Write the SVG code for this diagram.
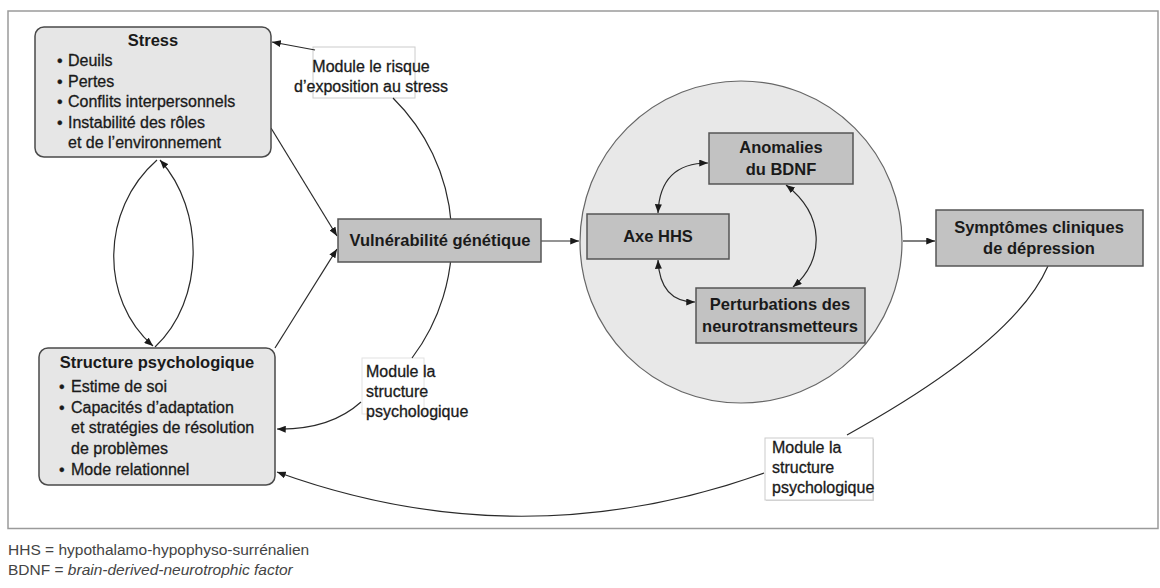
<svg xmlns="http://www.w3.org/2000/svg" width="1160" height="588" viewBox="0 0 1160 588">
<defs>
<marker id="ah" viewBox="0 0 10 8" refX="10" refY="4" markerWidth="9" markerHeight="7" markerUnits="userSpaceOnUse" orient="auto-start-reverse"><path d="M0,0 L10,4 L0,8 z" fill="#1a1a1a"/></marker>
</defs>
<style>
text{font-family:"Liberation Sans",Arial,sans-serif;fill:#1a1a1a}
.t{font-size:16.5px;font-weight:bold;text-anchor:middle}
.b{font-size:16px;stroke:#1a1a1a;stroke-width:0.3}
.lab{font-size:16px;stroke:#1a1a1a;stroke-width:0.3}
.fn{font-size:15.5px;fill:#444}
.soft{fill:#e6e6e6;stroke:#4a4a4a;stroke-width:1.5}
.dark{fill:#c2c2c2;stroke:#555;stroke-width:1.5}
.c{fill:none;stroke:#2a2a2a;stroke-width:1.2}
.lbox{fill:#fff;stroke:#ccc;stroke-width:1}
</style>
<rect x="8" y="11" width="1150" height="517.5" fill="#fff" stroke="#9a9a9a" stroke-width="1.5"/>
<g id="circle"><circle cx="741" cy="242" r="161" fill="#e8e8e8" stroke="#666" stroke-width="1.2"/></g>
<g id="label-risque"><rect class="lbox" x="313" y="47" width="102" height="51"/>
<text class="lab" text-anchor="middle" x="371" y="72">Module le risque</text>
<text class="lab" text-anchor="middle" x="371" y="92">d’exposition au stress</text></g>
<g id="label-structure-mid"><rect x="362" y="358" width="62" height="56" fill="#fff" stroke="#e2e2e2" stroke-width="1"/>
<text class="lab" x="366" y="377">Module la</text>
<text class="lab" x="366" y="397">structure</text>
<text class="lab" x="366" y="417">psychologique</text></g>
<g id="label-structure-bottom"><rect x="766" y="439" width="108" height="62" fill="#d8d8d8"/><rect class="lbox" x="765" y="438" width="108" height="62"/>
<text class="lab" x="772" y="453">Module la</text>
<text class="lab" x="772" y="473">structure</text>
<text class="lab" x="772" y="493">psychologique</text></g>
<g id="connectors">
<path class="c" d="M271,128 L337,236" marker-end="url(#ah)"/>
<path class="c" d="M275,348 L337,249" marker-end="url(#ah)"/>
<path class="c" d="M541,241 L579,241" marker-end="url(#ah)"/>
<path class="c" d="M903,241 L935,241" marker-end="url(#ah)"/>
<path class="c" d="M315,50 L272,42" marker-end="url(#ah)"/>
<path class="c" d="M393,98 A198,198 0 0 1 412,358"/>
<path class="c" d="M361,402 Q330,430 277,429" marker-end="url(#ah)"/>
<path class="c" d="M1048,266 Q1015,342 847,435"/>
<path class="c" d="M764,473 Q520,560 277,472" marker-end="url(#ah)"/>
<path class="c" d="M157,160 C100,210 100,300 153,346" marker-end="url(#ah)"/>
<path class="c" d="M155,347 C205,300 205,210 160,160" marker-end="url(#ah)"/>
<path class="c" d="M658,213 Q660,163 708,163" marker-start="url(#ah)" marker-end="url(#ah)"/>
<path class="c" d="M658,260 Q660,302 695,302" marker-start="url(#ah)" marker-end="url(#ah)"/>
<path class="c" d="M786,185 C825,215 825,260 793,287" marker-start="url(#ah)" marker-end="url(#ah)"/>
</g>
<g id="stress"><rect class="soft" x="35" y="27" width="236" height="130" rx="9"/>
<text class="t" x="153" y="46">Stress</text>
<text class="b" y="66"><tspan x="57">•</tspan><tspan x="68">Deuils</tspan></text>
<text class="b" y="87"><tspan x="57">•</tspan><tspan x="68">Pertes</tspan></text>
<text class="b" y="107"><tspan x="57">•</tspan><tspan x="68">Conflits interpersonnels</tspan></text>
<text class="b" y="128"><tspan x="57">•</tspan><tspan x="68">Instabilité des rôles</tspan></text>
<text class="b" x="68" y="148">et de l’environnement</text></g>
<g id="structure"><rect class="soft" x="39" y="348" width="236" height="137" rx="9"/>
<text class="t" x="157" y="368">Structure psychologique</text>
<text class="b" y="392"><tspan x="59">•</tspan><tspan x="71">Estime de soi</tspan></text>
<text class="b" y="413"><tspan x="59">•</tspan><tspan x="71">Capacités d’adaptation</tspan></text>
<text class="b" x="71" y="433">et stratégies de résolution</text>
<text class="b" x="71" y="454">de problèmes</text>
<text class="b" y="475"><tspan x="59">•</tspan><tspan x="71">Mode relationnel</tspan></text></g>
<g id="vulnerabilite"><rect class="dark" x="338" y="219" width="203" height="43"/>
<text class="t" x="440" y="246">Vulnérabilité génétique</text></g>
<g id="anomalies"><rect class="dark" x="709" y="133" width="144" height="51"/>
<text class="t" x="781" y="153">Anomalies</text>
<text class="t" x="781" y="175">du BDNF</text></g>
<g id="axe-hhs"><rect class="dark" x="587" y="214" width="142" height="45"/>
<text class="t" x="658" y="242">Axe HHS</text></g>
<g id="perturbations"><rect class="dark" x="696" y="288" width="169" height="55"/>
<text class="t" x="780" y="310">Perturbations des</text>
<text class="t" x="780" y="332">neurotransmetteurs</text></g>
<g id="symptomes"><rect class="dark" x="936" y="210" width="207" height="56"/>
<text class="t" x="1039" y="233">Symptômes cliniques</text>
<text class="t" x="1039" y="254">de dépression</text></g>
<g id="footnotes">
<text class="fn" x="8" y="555">HHS = hypothalamo-hypophyso-surrénalien</text>
<text class="fn" x="8" y="575">BDNF = <tspan font-style="italic">brain-derived-neurotrophic factor</tspan></text>
</g>
</svg>
